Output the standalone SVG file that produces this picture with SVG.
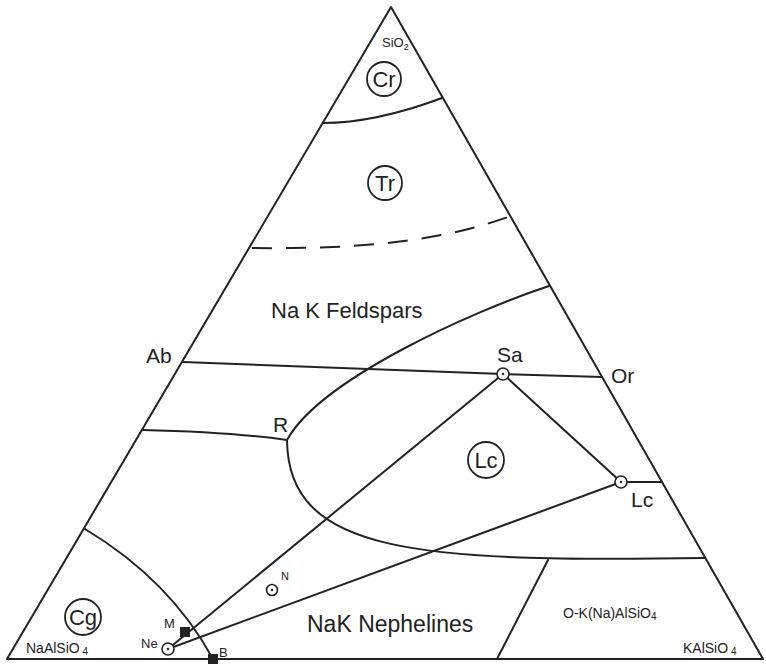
<svg xmlns="http://www.w3.org/2000/svg" width="766" height="665" viewBox="0 0 766 665">
<style>
.ln{fill:none;stroke:#222;stroke-width:2;stroke-linejoin:round;stroke-linecap:round}
.dash{stroke-dasharray:20,14;stroke-linecap:butt}
.t{font-family:"Liberation Sans",Arial,sans-serif;fill:#222}
.ring{fill:none;stroke:#222;stroke-width:1.8}
.pt{fill:#fff;stroke:#222;stroke-width:1.6}
.sq{fill:#222}
</style>
<rect width="766" height="665" fill="#fff"/>
<g id="connectors">
<path class="ln" d="M7,659 L391,7 L763,659 Z"/>
<path class="ln" d="M323,123 Q375,123 442,98"/>
<path class="ln dash" d="M252,248 C340,249 430,245 508,217"/>
<path class="ln" d="M183,362 L503,374 L602,377"/>
<path class="ln" d="M143,430 Q230,432 287,440"/>
<path class="ln" d="M549,286 C470,312 320,380 287,440 C288,555 420,562 705,558"/>
<path class="ln" d="M621,482 L662,482"/>
<path class="ln" d="M503,374 L621,482"/>
<path class="ln" d="M168,649 L503,374"/>
<path class="ln" d="M168,649 L621,482"/>
<path class="ln" d="M85,529 Q170,580 213,659"/>
<path class="ln" d="M548,560 L497,659"/>
</g>
<g id="Cr"><circle class="ring" cx="384" cy="79" r="17"/><text class="t" x="384" y="87" font-size="22" text-anchor="middle">Cr</text></g>
<g id="SiO2"><text class="t" x="382" y="47" font-size="13">SiO<tspan font-size="9" dy="3">2</tspan></text></g>
<g id="Tr"><circle class="ring" cx="385" cy="183" r="17"/><text class="t" x="385" y="191" font-size="22" text-anchor="middle">Tr</text></g>
<g id="feldspars"><text class="t" x="271" y="318" font-size="22">Na K Feldspars</text></g>
<g id="Ab"><text class="t" x="146" y="363" font-size="21">Ab</text></g>
<g id="Sa"><text class="t" x="497" y="362" font-size="21">Sa</text><circle class="pt" cx="503" cy="374" r="6"/><circle cx="503" cy="374" r="1.2" fill="#222"/></g>
<g id="Or"><text class="t" x="611" y="383" font-size="21">Or</text></g>
<g id="R"><text class="t" x="273" y="432" font-size="21">R</text></g>
<g id="LcField"><circle class="ring" cx="486" cy="460" r="18"/><text class="t" x="486" y="468" font-size="22" text-anchor="middle">Lc</text></g>
<g id="Lc"><circle class="pt" cx="621" cy="482" r="6"/><circle cx="621" cy="482" r="1.2" fill="#222"/><text class="t" x="631" y="507" font-size="21">Lc</text></g>
<g id="N"><circle class="pt" cx="272" cy="590" r="5.5"/><circle cx="272" cy="590" r="1.2" fill="#222"/><text class="t" x="281" y="580" font-size="11">N</text></g>
<g id="Cg"><circle class="ring" cx="83" cy="617" r="18"/><text class="t" x="83" y="625" font-size="22" text-anchor="middle">Cg</text></g>
<g id="NaAlSiO4"><text class="t" x="26" y="653" font-size="14">NaAlSiO<tspan font-size="10" dy="2"> 4</tspan></text></g>
<g id="M"><rect class="sq" x="180" y="627" width="10" height="10"/><text class="t" x="164" y="628" font-size="13">M</text></g>
<g id="Ne"><text class="t" x="141" y="648" font-size="13">Ne</text><circle class="pt" cx="168" cy="649" r="6"/><circle cx="168" cy="649" r="1.2" fill="#222"/></g>
<g id="B"><rect class="sq" x="208" y="654" width="10" height="10"/><text class="t" x="219" y="657" font-size="13">B</text></g>
<g id="nephelines"><text class="t" x="307" y="632" font-size="23">NaK Nephelines</text></g>
<g id="OK"><text class="t" x="563" y="618" font-size="14">O-K(Na)AlSiO<tspan font-size="10" dy="2">4</tspan></text></g>
<g id="KAlSiO4"><text class="t" x="683" y="653" font-size="14">KAlSiO<tspan font-size="10" dy="2"> 4</tspan></text></g>
</svg>
